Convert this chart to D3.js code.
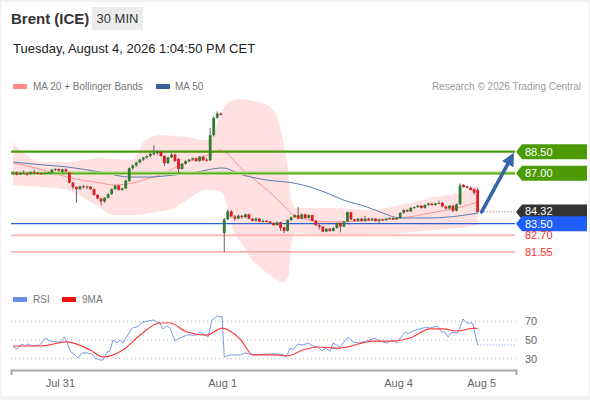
<!DOCTYPE html>
<html>
<head>
<meta charset="utf-8">
<script src="https://cdn.jsdelivr.net/npm/d3@7"></script>
<style>
  html, body { margin: 0; padding: 0; background: #fff; }
  svg { display: block; font-family: "Liberation Sans", Arial, sans-serif; }
</style>
</head>
<body>
<svg id="chart" width="590" height="400"></svg>
<script>
// 30 min candles, [open, high, low, close]
var candles = [
  [87.00, 87.15, 86.90, 87.05], [87.05, 87.12, 86.85, 86.92], [86.92, 87.10, 86.88, 87.02],
  [87.02, 87.20, 86.95, 86.98], [86.98, 87.08, 86.85, 86.95], [86.95, 87.12, 86.90, 87.08],
  [87.08, 87.25, 87.00, 87.02], [87.02, 87.10, 86.95, 87.00], [87.00, 87.05, 86.92, 86.98],
  [86.98, 87.08, 86.94, 87.02], [87.02, 87.10, 86.98, 87.05], [87.05, 87.30, 87.02, 87.25],
  [87.25, 87.35, 87.15, 87.30], [87.30, 87.33, 87.12, 87.18], [87.10, 87.32, 87.05, 87.28],
  [87.28, 87.35, 87.08, 87.12], [87.05, 87.10, 86.30, 86.35], [86.35, 86.40, 85.90, 86.05],
  [86.05, 86.10, 84.95, 85.90], [85.90, 86.15, 85.85, 86.10], [86.10, 86.20, 85.95, 86.05],
  [86.05, 86.15, 85.90, 86.08], [86.08, 86.10, 85.85, 85.90], [85.90, 85.95, 85.45, 85.50],
  [85.50, 85.55, 85.20, 85.25], [85.25, 85.30, 84.80, 85.05], [85.05, 85.35, 84.95, 85.30],
  [85.30, 85.60, 85.25, 85.55], [85.55, 85.95, 85.50, 85.90], [85.90, 86.20, 85.85, 86.15],
  [86.15, 86.20, 85.80, 85.85], [85.85, 86.00, 85.80, 85.95], [85.95, 86.55, 85.90, 86.50],
  [86.45, 87.40, 86.40, 87.35], [87.35, 87.60, 87.25, 87.55], [87.55, 87.80, 87.45, 87.75],
  [87.75, 88.00, 87.70, 87.95], [87.95, 88.15, 87.85, 88.10], [88.10, 88.25, 88.00, 88.20],
  [88.20, 88.40, 88.10, 88.35], [88.35, 88.95, 88.25, 88.40], [88.40, 88.60, 88.30, 88.50],
  [88.50, 88.55, 88.15, 88.20], [88.20, 88.25, 87.50, 87.70], [87.70, 88.15, 87.65, 88.10],
  [88.10, 88.40, 88.05, 88.30], [88.30, 88.35, 87.80, 87.85], [88.00, 88.05, 87.00, 87.30],
  [87.30, 87.70, 87.25, 87.65], [87.65, 87.90, 87.60, 87.85], [87.85, 88.00, 87.80, 87.95],
  [87.95, 88.10, 87.90, 88.05], [88.05, 88.10, 87.80, 87.85], [87.85, 88.20, 87.80, 88.15],
  [88.15, 88.25, 87.85, 87.90], [87.95, 88.05, 87.80, 87.90], [87.90, 90.15, 87.85, 89.65],
  [89.65, 90.95, 89.55, 90.85], [90.85, 91.30, 90.80, 91.15], [91.15, 91.22, 91.02, 91.05],
  [82.85, 83.90, 81.55, 83.80], [83.80, 84.50, 83.75, 84.35], [84.35, 84.45, 83.95, 84.00],
  [84.00, 84.10, 83.70, 83.85], [83.85, 84.15, 83.80, 84.05], [84.05, 84.10, 83.85, 83.95],
  [83.95, 84.20, 83.90, 84.15], [84.15, 84.20, 83.80, 83.85], [83.85, 83.90, 83.65, 83.70],
  [83.70, 83.95, 83.65, 83.85], [83.85, 83.90, 83.60, 83.65], [83.65, 83.78, 83.58, 83.70],
  [83.70, 83.75, 83.60, 83.65], [83.65, 83.70, 83.50, 83.55], [83.55, 83.60, 83.35, 83.40],
  [83.40, 83.65, 83.35, 83.60], [83.60, 83.65, 83.00, 83.20], [83.25, 83.30, 82.85, 83.00],
  [83.00, 83.80, 82.95, 83.75], [83.75, 84.00, 83.70, 83.95], [83.95, 84.15, 83.90, 84.10],
  [84.10, 84.65, 83.80, 83.85], [83.85, 84.20, 83.80, 84.15], [84.15, 84.20, 83.85, 83.90],
  [83.90, 84.15, 83.85, 84.10], [84.10, 84.12, 83.65, 83.70], [83.70, 83.75, 83.35, 83.40],
  [83.40, 83.50, 83.10, 83.30], [83.30, 83.35, 82.90, 82.95], [82.95, 83.20, 82.90, 83.15],
  [83.15, 83.20, 82.95, 83.00], [83.00, 83.25, 82.95, 83.20], [83.20, 83.60, 83.15, 83.55],
  [83.55, 83.60, 82.90, 83.30], [83.30, 83.70, 83.25, 83.65], [83.65, 84.35, 83.60, 84.30],
  [84.30, 84.32, 83.75, 83.80], [83.80, 83.85, 83.65, 83.70], [83.70, 83.90, 83.65, 83.85],
  [83.85, 83.90, 83.65, 83.70], [83.70, 84.05, 83.65, 83.85], [83.85, 83.92, 83.70, 83.75],
  [83.75, 83.90, 83.70, 83.85], [83.85, 83.88, 83.65, 83.70], [83.70, 83.85, 83.55, 83.80],
  [83.80, 83.85, 83.70, 83.75], [83.75, 83.90, 83.70, 83.85], [83.85, 83.95, 83.80, 83.90],
  [83.90, 83.95, 83.75, 83.80], [83.80, 83.95, 83.75, 83.90], [83.90, 84.30, 83.85, 84.25],
  [84.25, 84.50, 84.20, 84.45], [84.45, 84.50, 84.30, 84.35], [84.35, 84.65, 84.30, 84.60],
  [84.60, 84.70, 84.55, 84.65], [84.65, 84.80, 84.60, 84.75], [84.75, 84.80, 84.55, 84.60],
  [84.60, 84.85, 84.55, 84.80], [84.80, 84.95, 84.75, 84.90], [84.90, 84.95, 84.75, 84.80],
  [84.80, 84.95, 84.75, 84.90], [84.90, 85.10, 84.85, 84.95], [84.95, 85.00, 84.65, 84.70],
  [84.70, 84.75, 84.50, 84.55], [84.55, 84.80, 84.50, 84.75], [84.75, 84.80, 84.30, 84.40],
  [84.40, 84.90, 84.35, 84.85], [84.85, 86.30, 84.80, 86.15], [86.20, 86.25, 86.00, 86.05],
  [86.10, 86.15, 85.95, 86.00], [86.00, 86.10, 85.80, 85.85], [85.90, 85.95, 85.50, 85.65],
  [85.85, 86.00, 84.25, 84.32]
];

// moving average 20 (candle index, price)
var ma20Idx = [0, 8.6, 15.3, 24.8, 28.4, 34.1, 36.9, 43.8, 47.4, 53.1, 56.8, 58.8, 65.3, 72.2,
  75.9, 79.3, 82.9, 90.1, 98.6, 104.3, 110.8, 118.5, 126.2, 132];
var ma20 = [87.72, 87.23, 86.74, 86.33, 86.19, 86.33, 86.53, 87.09, 87.58, 88.06, 88.41, 88.62,
  87.23, 85.84, 85.01, 84.17, 83.83, 83.62, 83.69, 83.76, 83.90, 84.24, 84.59, 85.01];

// bollinger bands
var bandIdx = [0, 4.9, 8.6, 15.3, 24.8, 28.4, 34.1, 36.9, 41.8, 45, 49.4, 54.6, 57.4, 59.4, 62.6,
  65.3, 67.3, 72.2, 75, 76.7, 78.2, 79, 80.2, 90.1, 101.4, 110, 118.5, 126.2, 132];
var bandUp = [89.17, 88.06, 87.78, 87.78, 88.06, 88.00, 87.92, 89.10, 89.66, 89.60, 89.52, 89.31,
  90.01, 91.40, 92.09, 92.16, 92.05, 91.74, 90.91, 89.31, 87.02, 85.15, 84.59, 84.59, 84.45,
  84.80, 85.29, 85.63, 86.19];
var bandLo = [86.19, 86.10, 86.05, 85.84, 84.59, 84.10, 84.10, 84.15, 84.35, 84.50, 85.15, 85.84,
  85.80, 85.63, 83.06, 82.00, 81.19, 80.08, 79.60, 79.45, 79.80, 82.00, 82.86, 82.72, 82.79,
  82.86, 83.05, 83.20, 83.41];

// moving average 50
var ma50Idx = [0, 8.6, 15.3, 24.8, 33.2, 38.9, 45.5, 51.1, 55.1, 59.4, 65.3, 72.2, 79.6, 84.4,
  89.2, 93.8, 100.6, 105.1, 110, 118.5, 126.2, 132];
var ma50 = [87.78, 87.58, 87.44, 87.09, 86.74, 86.74, 86.88, 87.02, 87.23, 87.37, 86.88, 86.53,
  86.33, 86.05, 85.63, 85.15, 84.66, 84.24, 83.90, 83.90, 84.03, 84.24];

// RSI and its 9 period average
var rsiIdx = [0, 1.1, 2.5, 3.4, 4.2, 5.4, 7.6, 9.1, 10.5, 12.5, 13.3, 14.5, 15.3, 16.2, 17.6,
  18.4, 19.6, 21, 22.4, 23.3, 24.7, 25.5, 26.7, 27.5, 28.4, 29.5, 30.4, 31.2, 32.6, 33.8, 35.2,
  36.9, 39.8, 40.9, 41.7, 42.6, 43.7, 44.6, 46, 47.4, 49.4, 52.3, 53.1, 54.5, 55.4, 56.5, 57.9,
  59.4, 60, 61.6, 64.5, 65.9, 68.2, 72.2, 75.8, 77.8, 78.7, 79.5, 80.9, 82.4, 83.8, 85.2, 86.6,
  87.8, 88.6, 90.1, 90.9, 92, 92.9, 93.8, 95.2, 96.6, 98, 100.6, 102.8, 104.2, 106.2, 107.7,
  109.1, 110.5, 111.4, 112.2, 113.6, 115.6, 117.6, 118.5, 120.5, 121.9, 122.7, 123.6, 124.7,
  126.1, 126.7, 127.8, 128.9, 130.4, 130.7, 132];
var rsi = [42.8, 40.4, 45.7, 43.6, 45.7, 43.6, 44.7, 52.1, 48.9, 47.9, 47.9, 53.2, 47.9, 38.2,
  34.0, 30.7, 36.1, 36.1, 35.0, 30.7, 28.6, 28.6, 37.2, 38.2, 50.0, 46.8, 50.0, 46.8, 55.3, 62.8,
  63.9, 69.3, 71.4, 69.3, 68.2, 61.8, 65.0, 62.8, 48.9, 52.1, 55.3, 55.3, 58.6, 55.3, 53.2, 71.4,
  75.7, 74.6, 31.8, 34.0, 34.0, 36.1, 34.0, 35.0, 35.0, 32.9, 41.4, 39.3, 45.7, 44.7, 46.8, 43.6,
  42.5, 38.2, 41.4, 38.2, 46.8, 44.7, 42.5, 46.8, 53.2, 47.9, 46.8, 48.9, 52.1, 48.9, 46.8, 50.0,
  46.8, 54.3, 58.6, 56.4, 59.6, 61.8, 63.9, 62.8, 65.0, 58.6, 58.6, 53.2, 58.6, 57.5, 60.7, 72.5,
  68.2, 68.2, 66.0, 44.7];
var rsiMaIdx = [0, 7.6, 15.3, 21.9, 25.5, 31.2, 36.1, 41.7, 44.6, 49.4, 55.1, 59.4, 64.5, 68.2,
  75, 77.8, 82.4, 86.6, 92.9, 102.3, 107.9, 112.8, 118.5, 122.2, 126.1, 131.3, 132];
var rsiMa = [43.6, 43.6, 47.9, 39.3, 31.8, 39.3, 55.3, 68.2, 68.2, 58.6, 55.3, 62.8, 51.1, 34.0,
  34.0, 32.9, 39.3, 42.5, 41.4, 48.9, 48.9, 52.1, 61.8, 61.8, 59.6, 62.8, 61.8];
var rsiTicks = [70, 50, 30];

var dayIdx = [13.3, 59.4, 109.4, 133];
var dayLabels = ['Jul 31', 'Aug 1', 'Aug 4', 'Aug 5'];

var resistances = [88.50, 87.00];
var lastPrice = 84.32;
var pivot = 83.50;
var supports = [82.70, 81.55];

var svg = d3.select('#chart');

var x = d3.scaleLinear().domain([-0.6, 142.9]).range([11, 516]);
var y = d3.scaleLinear().domain([81.55, 88.50]).range([251.8, 151.7]);
var yR = d3.scaleLinear().domain([30, 70]).range([358.7, 321.3]);
var xEnd = x.range()[1];
var xStart = x.range()[0];

function pts(idx, vals) {
  return idx.map(function(d, i) { return [d, vals[i]]; });
}

// frame
svg.append('rect').attr('width', 590).attr('height', 400).attr('fill', '#f2f2f2');
svg.append('rect').attr('x', 1.5).attr('y', 2).attr('width', 587).attr('height', 394)
  .attr('fill', '#fff');

// header
svg.append('text').attr('x', 11).attr('y', 24)
  .style('font-size', '15px').style('font-weight', 'bold').attr('fill', '#333')
  .text('Brent (ICE)');
svg.append('rect').attr('x', 92).attr('y', 7).attr('width', 51).attr('height', 23)
  .attr('fill', '#ececec');
svg.append('text').attr('x', 117.5).attr('y', 23).attr('text-anchor', 'middle')
  .style('font-size', '13px').attr('fill', '#333').text('30 MIN');
svg.append('text').attr('x', 13).attr('y', 53)
  .style('font-size', '13px').attr('fill', '#222')
  .text('Tuesday, August 4, 2026 1:04:50 PM CET');

// legend
var legend = svg.append('g').style('font-size', '10px').attr('fill', '#777');
legend.append('rect').attr('x', 13).attr('y', 84).attr('width', 14).attr('height', 5).attr('fill', '#ff8a8a');
legend.append('text').attr('x', 33).attr('y', 90).text('MA 20 + Bollinger Bands');
legend.append('rect').attr('x', 156).attr('y', 84).attr('width', 14).attr('height', 5).attr('fill', '#3a5f9a');
legend.append('text').attr('x', 175).attr('y', 90).text('MA 50');
svg.append('text').attr('x', 581).attr('y', 90).attr('text-anchor', 'end')
  .style('font-size', '10px').attr('fill', '#999')
  .text('Research \u00a9 2026 Trading Central');

// bollinger band + moving averages
var band = bandIdx.map(function(d, i) { return { i: d, up: bandUp[i], lo: bandLo[i] }; });
svg.append('path').datum(band)
  .attr('fill', '#ffe1e1')
  .attr('d', d3.area().curve(d3.curveMonotoneX)
    .x(function(d) { return x(d.i); })
    .y0(function(d) { return y(d.lo); })
    .y1(function(d) { return y(d.up); }));

var line = d3.line().curve(d3.curveMonotoneX)
  .x(function(d) { return x(d[0]); })
  .y(function(d) { return y(d[1]); });

svg.append('path').datum(pts(ma20Idx, ma20))
  .attr('fill', 'none').attr('stroke', '#ff9393').attr('stroke-width', 1).attr('d', line);
svg.append('path').datum(pts(ma50Idx, ma50))
  .attr('fill', 'none').attr('stroke', '#5a7db4').attr('stroke-width', 1).attr('d', line);

// level lines
svg.append('line').attr('x1', xStart).attr('x2', xEnd - 1)
  .attr('y1', y(resistances[1])).attr('y2', y(resistances[1]))
  .attr('stroke', '#a6d77a').attr('stroke-width', 3.5);
svg.append('line').attr('x1', xStart).attr('x2', xEnd - 1)
  .attr('y1', y(resistances[1])).attr('y2', y(resistances[1]))
  .attr('stroke', '#5ca821').attr('stroke-width', 1.2);
svg.append('line').attr('x1', xStart).attr('x2', xEnd - 1)
  .attr('y1', y(resistances[0])).attr('y2', y(resistances[0]))
  .attr('stroke', '#4b9a08').attr('stroke-width', 2.2);
svg.append('line').attr('x1', xStart).attr('x2', xEnd - 1)
  .attr('y1', y(pivot)).attr('y2', y(pivot))
  .attr('stroke', '#2f5fd0').attr('stroke-width', 1.3);
svg.append('line').attr('x1', xStart).attr('x2', xEnd - 1)
  .attr('y1', y(supports[0])).attr('y2', y(supports[0]))
  .attr('stroke', '#ffb9b9').attr('stroke-width', 2);
svg.append('line').attr('x1', xStart).attr('x2', xEnd - 1)
  .attr('y1', y(supports[1])).attr('y2', y(supports[1]))
  .attr('stroke', '#f29a9a').attr('stroke-width', 1.2);

// candles
var cg = svg.append('g');
cg.selectAll('line.wick').data(candles).enter().append('line')
  .attr('class', 'wick')
  .attr('x1', function(d, i) { return x(i); })
  .attr('x2', function(d, i) { return x(i); })
  .attr('y1', function(d) { return y(d[1]); })
  .attr('y2', function(d) { return y(d[2]); })
  .attr('stroke', '#666').attr('stroke-width', 1);
cg.selectAll('rect.body').data(candles).enter().append('rect')
  .attr('class', 'body')
  .attr('x', function(d, i) { return x(i) - 1.4; })
  .attr('width', 2.8)
  .attr('y', function(d) { return y(Math.max(d[0], d[3])); })
  .attr('height', function(d) { return Math.max(1, Math.abs(y(d[0]) - y(d[3]))); })
  .attr('fill', function(d) { return d[3] >= d[0] ? '#2f7d32' : '#dd1b24'; });

// last price dotted
var lastI = candles.length - 1;
svg.append('line').attr('x1', x(lastI) + 6).attr('x2', xEnd)
  .attr('y1', y(lastPrice)).attr('y2', y(lastPrice))
  .attr('stroke', '#666').attr('stroke-width', 1).attr('stroke-dasharray', '1,2');

// arrow to target
var ax0 = x(lastI) + 4, ay0 = y(lastPrice), ax1 = xEnd - 2, ay1 = y(resistances[0]) + 1;
var dx = ax1 - ax0, dy = ay1 - ay0, len = Math.sqrt(dx * dx + dy * dy);
var ux = dx / len, uy = dy / len;
svg.append('line').attr('x1', ax0).attr('y1', ay0)
  .attr('x2', ax1 - ux * 10).attr('y2', ay1 - uy * 10)
  .attr('stroke', '#3465a9').attr('stroke-width', 3.6).attr('stroke-linecap', 'round');
svg.append('path')
  .attr('d', 'M' + ax1 + ',' + ay1 +
    'L' + (ax1 - ux * 13 - uy * 6.5) + ',' + (ay1 - uy * 13 + ux * 6.5) +
    'L' + (ax1 - ux * 13 + uy * 6.5) + ',' + (ay1 - uy * 13 - ux * 6.5) + 'Z')
  .attr('fill', '#3465a9');

// price tags
function tag(price, fill, shift) {
  var cy = y(price);
  var g = svg.append('g');
  g.append('path')
    .attr('d', 'M' + xEnd + ',' + cy + 'L' + (xEnd + 6) + ',' + (cy - 7.5) +
      'L587,' + (cy - 7.5) + 'L587,' + (cy + 7.5) + 'L' + (xEnd + 6) + ',' + (cy + 7.5) + 'Z')
    .attr('fill', fill);
  g.append('text').attr('x', xEnd + 9).attr('y', cy + (shift || 0)).attr('dy', '0.36em')
    .style('font-size', '11px').attr('fill', '#fff').text(price.toFixed(2));
}
tag(resistances[0], '#4c9a06');
tag(resistances[1], '#4c9a06');
tag(lastPrice, '#333', -0.8);
tag(pivot, '#1f5fff', 0.3);
supports.forEach(function(p) {
  svg.append('text').attr('x', xEnd + 9).attr('y', y(p)).attr('dy', '0.36em')
    .style('font-size', '11px').attr('fill', '#ff2b2b').text(p.toFixed(2));
});

// RSI panel
var rl = svg.append('g').style('font-size', '10px').attr('fill', '#777');
rl.append('rect').attr('x', 13).attr('y', 297).attr('width', 14).attr('height', 5).attr('fill', '#6a8ee6');
rl.append('text').attr('x', 33).attr('y', 303).text('RSI');
rl.append('rect').attr('x', 62).attr('y', 297).attr('width', 14).attr('height', 5).attr('fill', '#ee1111');
rl.append('text').attr('x', 82).attr('y', 303).text('9MA');

svg.append('g').selectAll('line').data(rsiTicks).enter().append('line')
  .attr('x1', xStart).attr('x2', xEnd)
  .attr('y1', function(d) { return yR(d); }).attr('y2', function(d) { return yR(d); })
  .attr('stroke', '#bbb').attr('stroke-dasharray', '1,3');
svg.append('g').selectAll('text').data(rsiTicks).enter().append('text')
  .attr('x', xEnd + 9).attr('y', function(d) { return yR(d); }).attr('dy', '0.36em')
  .style('font-size', '11px').attr('fill', '#666').text(function(d) { return d; });

var rline = d3.line()
  .x(function(d) { return x(d[0]); })
  .y(function(d) { return yR(d[1]); });
svg.append('path').datum(pts(rsiIdx, rsi))
  .attr('fill', 'none').attr('stroke', '#7a98ea').attr('stroke-width', 1).attr('d', rline);
svg.append('line').attr('x1', x(lastI)).attr('x2', xEnd)
  .attr('y1', yR(rsi[rsi.length - 1])).attr('y2', yR(rsi[rsi.length - 1]))
  .attr('stroke', '#7a98ea').attr('stroke-dasharray', '1,2');
svg.append('path').datum(pts(rsiMaIdx, rsiMa))
  .attr('fill', 'none').attr('stroke', '#ff3a3a').attr('stroke-width', 1.2)
  .attr('d', rline.curve(d3.curveMonotoneX));

// time axis
var axis = svg.append('g').attr('transform', 'translate(0,370)')
  .call(d3.axisBottom(x).tickValues(dayIdx)
    .tickFormat(function(d, i) { return dayLabels[i]; })
    .tickSizeInner(0).tickSizeOuter(5).tickPadding(9));
axis.select('.domain').attr('stroke', '#aaa').attr('stroke-width', 2);
axis.selectAll('text').attr('fill', '#666').style('font-size', '11px')
  .style('font-family', '"Liberation Sans", Arial, sans-serif');
</script>
</body>
</html>
